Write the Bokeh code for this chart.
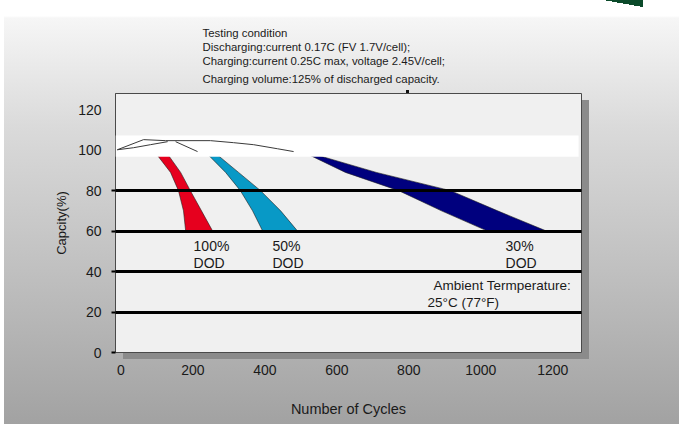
from bokeh.plotting import figure
from bokeh.models import BoxAnnotation, Title, FixedTicker, ColumnDataSource, Range1d
from bokeh.core.properties import value
from bokeh.embed import file_html
from bokeh.resources import INLINE

FONT = "Liberation Sans"

# ---- data ----
x_ticks = [0, 200, 400, 600, 800, 1000, 1200]
y_ticks = [0, 20, 40, 60, 80, 100, 120]
grid_levels = [20, 40, 60, 80]

cap_levels = [98, 89, 80, 70, 60]            # capacity (%) levels of the band edges
dod100_low = [99, 138, 160, 174, 180]        # cycles, left edge of 100% DOD band
dod100_high = [130, 166, 193, 224, 255]      # cycles, right edge
dod50_low = [241, 291, 332, 366, 394]
dod50_high = [266, 327, 388, 444, 491]
dod30_low = [519, 624, 772, 891, 1019]
dod30_high = [537, 710, 916, 1047, 1183]

curve_a_x = [-10, 63, 124, 249, 313, 369, 435, 480]
curve_a_y = [100.2, 105.2, 104.7, 104.7, 103.7, 102.7, 100.7, 99.3]
curve_b_x = [-10, 35, 82, 130]
curve_b_y = [100.2, 101.2, 102.7, 104.2]
curve_c_x = [152, 213]
curve_c_y = [104.2, 99.3]

ann_text = ["100%", "DOD", "50%", "DOD", "30%", "DOD", "Ambient Termperature:", "25°C (77°F)"]
ann_x = [202, 202, 421, 421, 1069, 1069, 869, 852]
ann_y = [52.8, 44.4, 52.8, 44.4, 52.8, 44.4, 33.0, 24.7]
ann_size = ["14px"] * 6 + ["13.5px", "13.5px"]

cond_lines = ["Testing condition",
              "Discharging:current 0.17C (FV 1.7V/cell);",
              "Charging:current 0.25C max, voltage 2.45V/cell;",
              "Charging volume:125% of discharged capacity."]

colors = {"100": "#e6001e", "50": "#0899c6", "30": "#00007e"}

# ---- figure ----
p = figure(width=679, height=424, x_range=Range1d(-15, 1280), y_range=Range1d(0, 128),
           output_backend="svg", toolbar_location=None,
           min_border_left=115, min_border_right=98, min_border_top=93, min_border_bottom=72,
           background_fill_color="#f0f0f0", border_fill_color=None,
           outline_line_color="#4a4a4a", outline_line_width=1)
p.styles = {"background": (
    "linear-gradient(to top right, transparent 50%, #0b4a2a 50%) 603px 0px / 40px 7px no-repeat, "
    "linear-gradient(#111111, #111111) 406px 90px / 3px 3px no-repeat, "
    "linear-gradient(#8b8b8b, #8b8b8b) 582px 100px / 7px 259px no-repeat, "
    "linear-gradient(#8b8b8b, #8b8b8b) 123px 352px / 466px 7px no-repeat, "
    "linear-gradient(#ffffff, #ffffff) 0px 0px / 4px 100% no-repeat, "
    "linear-gradient(to bottom, #ffffff 0px, #ffffff 16px, #f6f6f6 18px, #dadada 30%, "
    "#bfbfbf 65%, #a2a2a2 100%)")}

# bands
for lo, hi, key in [(dod100_low, dod100_high, "100"), (dod50_low, dod50_high, "50"),
                    (dod30_low, dod30_high, "30")]:
    xs = list(lo) + list(hi)[::-1]
    ys = list(cap_levels) + list(cap_levels)[::-1]
    p.patch(xs, ys, fill_color=colors[key], line_color="#202020", line_width=0.6)

# white strip
p.add_layout(BoxAnnotation(left=-15, right=1272, top=107.2, bottom=96.8,
                           fill_color="white", fill_alpha=1, line_color=None))

# thin early curves
for cx, cy in [(curve_a_x, curve_a_y), (curve_b_x, curve_b_y), (curve_c_x, curve_c_y)]:
    r = p.line(cx, cy, line_color="#3a3a3a", line_width=1)
    r.level = "overlay"

# annotations inside the plot
src = ColumnDataSource(dict(x=ann_x, y=ann_y, t=ann_text, s=ann_size))
p.text(x="x", y="y", text="t", source=src, text_font=value(FONT), text_font_size="s",
       text_align="left", text_baseline="middle", text_color="#1a1a1a")

# testing-condition block above the plot (first added = closest to the frame)
for i, t in enumerate(reversed(cond_lines)):
    if i == 0:
        ttl = Title(text=t, align="left", offset=87, text_font=FONT,
                    text_font_size="11.4px", text_font_style="normal",
                    text_color="#1a1a1a", standoff=13, vertical_align="top")
    else:
        ttl = Title(text=t, align="left", offset=87, text_font=FONT,
                    text_font_size="11.4px", text_font_style="normal",
                    text_color="#1a1a1a", standoff=0)
    p.add_layout(ttl, "above")

# grid
p.xgrid.visible = False
p.ygrid.ticker = FixedTicker(ticks=grid_levels)
p.ygrid.grid_line_color = "black"
p.ygrid.grid_line_width = 3
p.ygrid.level = "overlay"

# axes
p.yaxis.ticker = FixedTicker(ticks=y_ticks, minor_ticks=[0] + grid_levels)
p.yaxis.major_tick_line_color = None
p.yaxis.major_tick_out = 4
p.yaxis.major_tick_in = 0
p.yaxis.minor_tick_out = 4
p.yaxis.minor_tick_in = 0
p.yaxis.minor_tick_line_color = "black"
p.yaxis.minor_tick_line_width = 2
p.yaxis.axis_line_color = "#4a4a4a"
p.yaxis.major_label_standoff = 10
p.yaxis.axis_label = "Capcity(%)"
p.yaxis.axis_label_standoff = 6

p.xaxis.ticker = FixedTicker(ticks=x_ticks)
p.xaxis.axis_line_color = None
p.xaxis.major_tick_line_color = None
p.xaxis.minor_tick_line_color = None
p.xaxis.major_tick_out = 0
p.xaxis.major_tick_in = 0
p.xaxis.major_label_standoff = 12
p.xaxis.axis_label = "Number of Cycles"
p.xaxis.axis_label_standoff = 23

for ax in (p.xaxis[0], p.yaxis[0]):
    ax.major_label_text_font = FONT
    ax.major_label_text_font_size = "14px"
    ax.major_label_text_color = "#1a1a1a"
    ax.axis_label_text_font = FONT
    ax.axis_label_text_font_style = "normal"
    ax.axis_label_text_color = "#1a1a1a"
p.xaxis.axis_label_text_font_size = "14.5px"
p.yaxis.axis_label_text_font_size = "13px"

open("out.html", "w").write(file_html(p, INLINE))
